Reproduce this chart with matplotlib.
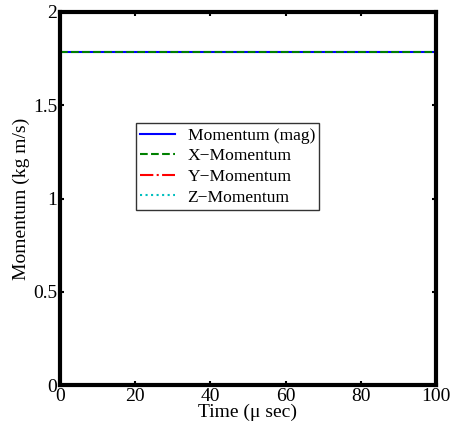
import matplotlib
matplotlib.use("Agg")
import matplotlib.pyplot as plt
import numpy as np

time_us = [0, 10, 20, 30, 40, 50, 60, 70, 80, 90, 100]
mom_mag = [1.785] * 11
mom_x = [1.785] * 11
mom_y = [0.0] * 11
mom_z = [0.0] * 11

plt.rcParams['font.family'] = ['Liberation Serif', 'DejaVu Serif']

fig = plt.figure(figsize=(4.55, 4.32), dpi=100)
ax = fig.add_axes([60/455, 47/432, 376/455, 373/432])

ax.plot(time_us, mom_mag, color='#0000ff', lw=1.5, ls='-', label='Momentum (mag)')
ax.plot(time_us, mom_x, color='#008000', lw=1.5, ls='--', label='X\u2212Momentum')
ax.plot(time_us, mom_y, color='#ff0000', lw=1.5, ls='-.', label='Y\u2212Momentum')
ax.plot(time_us, mom_z, color='#00bfbf', lw=1.5, ls=':', label='Z\u2212Momentum')

ax.set_xlim(0, 100)
ax.set_ylim(0, 2)
ax.set_xticks([0, 20, 40, 60, 80, 100])
ax.set_yticks([0, 0.5, 1, 1.5, 2])
ax.set_yticklabels(['0', '0.5', '1', '1.5', '2'])
ax.tick_params(direction='in', length=3, width=1.5, labelsize=14, top=True, right=True)
ax.tick_params(axis='x', pad=2.5)
ax.tick_params(axis='y', pad=2)
for s in ax.spines.values():
    s.set_linewidth(3)

ax.set_xlabel('Time (\u03bc sec)', fontsize=14, labelpad=-1)
ax.set_ylabel('Momentum (kg m/s)', fontsize=14, labelpad=2)

leg = ax.legend(loc='upper left', bbox_to_anchor=(76/376, (385-123)/373), fontsize=12.6,
                frameon=True, fancybox=False, edgecolor='black', borderpad=0.25,
                handlelength=2.0, handletextpad=0.7, labelspacing=0.25, borderaxespad=0)
leg.get_frame().set_linewidth(1.0)

fig.savefig('out.png', dpi=100)
